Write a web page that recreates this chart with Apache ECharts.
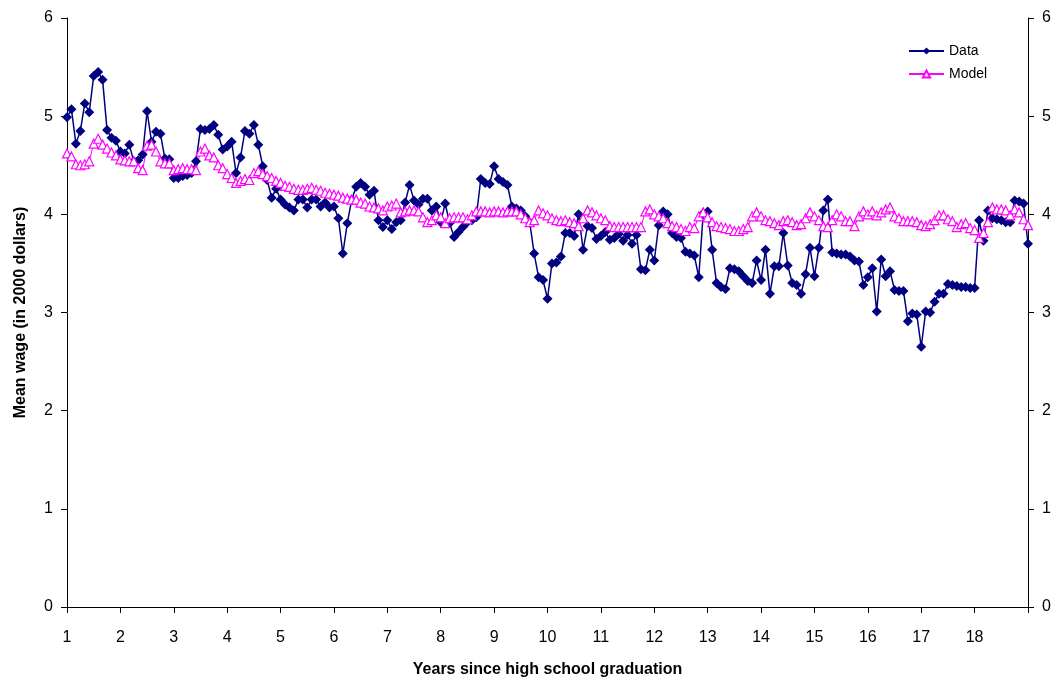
<!DOCTYPE html>
<html>
<head>
<meta charset="utf-8">
<script src="https://cdn.jsdelivr.net/npm/echarts@6/dist/echarts.min.js"></script>
<style>
  html, body { margin: 0; padding: 0; background: #fff; }
  #chart { width: 1060px; height: 684px; }
</style>
</head>
<body>
<div id="chart"></div>
<script>
// monthly mean wage, one row per year since graduation (last row ends at year 19)
var dataWage = [
  4.99, 5.07, 4.72, 4.85, 5.13, 5.04, 5.41, 5.45, 5.37, 4.86, 4.78, 4.75,
  4.64, 4.62, 4.71, 4.54, 4.55, 4.61, 5.05, 4.74, 4.84, 4.82, 4.57, 4.56,
  4.37, 4.37, 4.39, 4.40, 4.42, 4.54, 4.87, 4.86, 4.87, 4.91, 4.81, 4.66,
  4.69, 4.74, 4.42, 4.58, 4.85, 4.82, 4.91, 4.71, 4.49, 4.35, 4.17, 4.26,
  4.15, 4.10, 4.07, 4.04, 4.15, 4.15, 4.07, 4.15, 4.15, 4.08, 4.12, 4.07,
  4.08, 3.96, 3.60, 3.91, 4.15, 4.28, 4.32, 4.28, 4.20, 4.24, 3.94, 3.87,
  3.94, 3.85, 3.92, 3.94, 4.12, 4.30, 4.14, 4.10, 4.16, 4.16, 4.04, 4.08,
  3.92, 4.11, 3.91, 3.77, 3.82, 3.87, 3.92, 3.94, 3.97, 4.36, 4.32, 4.31,
  4.49, 4.36, 4.33, 4.30, 4.08, 4.06, 4.04, 3.98, 3.92, 3.60, 3.36, 3.33,
  3.14, 3.50, 3.51, 3.57, 3.81, 3.81, 3.78, 4.00, 3.64, 3.88, 3.86, 3.75,
  3.78, 3.82, 3.74, 3.76, 3.80, 3.73, 3.79, 3.70, 3.79, 3.44, 3.43, 3.64,
  3.53, 3.89, 4.03, 4.00, 3.81, 3.77, 3.76, 3.62, 3.60, 3.58, 3.36, 4.01,
  4.03, 3.64, 3.30, 3.26, 3.24, 3.45, 3.44, 3.42, 3.37, 3.32, 3.30, 3.53,
  3.33, 3.64, 3.19, 3.47, 3.47, 3.81, 3.48, 3.30, 3.28, 3.19, 3.39, 3.66,
  3.37, 3.66, 4.04, 4.15, 3.61, 3.60, 3.59, 3.59, 3.57, 3.53, 3.52, 3.28,
  3.36, 3.45, 3.01, 3.54, 3.37, 3.42, 3.23, 3.22, 3.22, 2.91, 2.99, 2.98,
  2.65, 3.01, 3.00, 3.11, 3.19, 3.19, 3.29, 3.28, 3.27, 3.26, 3.26, 3.25,
  3.25, 3.94, 3.73, 4.04, 3.96, 3.95, 3.94, 3.92, 3.92, 4.14, 4.13, 4.11, 3.70
];

var modelWage = [
  4.62, 4.59, 4.51, 4.50, 4.51, 4.54, 4.72, 4.77, 4.71, 4.67, 4.63, 4.60,
  4.56, 4.55, 4.54, 4.54, 4.47, 4.45, 4.70, 4.71, 4.64, 4.54, 4.52, 4.52,
  4.45, 4.46, 4.47, 4.46, 4.46, 4.45, 4.64, 4.67, 4.60, 4.58, 4.50, 4.47,
  4.41, 4.37, 4.32, 4.34, 4.36, 4.35, 4.42, 4.44, 4.41, 4.39, 4.37, 4.34,
  4.32, 4.29, 4.28, 4.26, 4.25, 4.25, 4.26, 4.27, 4.25, 4.24, 4.22, 4.21,
  4.20, 4.19, 4.17, 4.16, 4.15, 4.15, 4.12, 4.11, 4.08, 4.07, 4.06, 4.04,
  4.08, 4.09, 4.11, 4.02, 4.03, 4.04, 4.04, 4.03, 3.97, 3.92, 3.94, 3.99,
  3.97, 3.91, 3.96, 3.97, 3.97, 3.97, 3.95, 3.99, 4.03, 4.03, 4.03, 4.02,
  4.03, 4.03, 4.02, 4.03, 4.03, 4.03, 4.00, 3.96, 3.92, 3.94, 4.04, 4.01,
  3.99, 3.96, 3.94, 3.93, 3.94, 3.92, 3.91, 3.88, 3.96, 4.04, 4.02, 3.99,
  3.96, 3.94, 3.88, 3.87, 3.87, 3.87, 3.87, 3.87, 3.87, 3.87, 4.03, 4.05,
  4.00, 3.98, 3.96, 3.91, 3.88, 3.87, 3.85, 3.83, 3.87, 3.86, 3.98, 4.02,
  3.97, 3.92, 3.88, 3.87, 3.86, 3.85, 3.83, 3.83, 3.85, 3.87, 3.98, 4.02,
  3.98, 3.94, 3.93, 3.91, 3.89, 3.93, 3.94, 3.92, 3.89, 3.90, 3.96, 4.02,
  3.98, 3.94, 3.88, 3.87, 3.94, 4.00, 3.98, 3.93, 3.93, 3.88, 3.98, 4.03,
  4.00, 4.03, 3.99, 4.02, 4.05, 4.07, 3.98, 3.96, 3.93, 3.93, 3.93, 3.92,
  3.89, 3.88, 3.90, 3.94, 3.99, 3.99, 3.95, 3.93, 3.87, 3.90, 3.91, 3.86,
  3.84, 3.76, 3.81, 3.92, 4.07, 4.05, 4.05, 4.04, 3.99, 4.05, 4.02, 3.95, 3.89
];

var firstYear = 1;
var lastYear = 19;
var monthsPerYear = 12;

function toPoints(values) {
  return values.map(function (v, i) { return [firstYear + i / monthsPerYear, v]; });
}

var font = '"Liberation Sans", Arial, sans-serif';
var axisBlack = { color: '#000', width: 1 };

var chart = echarts.init(document.getElementById('chart'));

var yAxisBase = {
  type: 'value',
  min: 0,
  max: 6,
  interval: 1,
  axisLine: { show: true, lineStyle: axisBlack },
  axisTick: { show: true, length: 6, lineStyle: axisBlack },
  axisLabel: { fontSize: 16, color: '#000', margin: 14, fontFamily: font },
  splitLine: { show: false }
};

option = {
  animation: false,
  textStyle: { fontFamily: font },
  grid: { left: 67, right: 32, top: 18, bottom: 77 },
  legend: {
    orient: 'vertical',
    left: 908,
    top: 44,
    padding: 0,
    itemWidth: 35,
    itemHeight: 9,
    itemGap: 9,
    textStyle: { fontSize: 14, color: '#000', fontFamily: font },
    data: ['Data', 'Model']
  },
  xAxis: {
    type: 'value',
    min: firstYear,
    max: lastYear,
    interval: 1,
    name: 'Years since high school graduation',
    nameLocation: 'middle',
    nameGap: 55,
    nameTextStyle: { fontSize: 16, fontWeight: 'bold', color: '#000', fontFamily: font },
    axisLine: { show: true, onZero: false, lineStyle: axisBlack },
    axisTick: { show: true, length: 6, lineStyle: axisBlack },
    axisLabel: {
      fontSize: 16, color: '#000', margin: 23, fontFamily: font,
      formatter: function (v) { return v === lastYear ? '' : v; }
    },
    splitLine: { show: false }
  },
  yAxis: [
    Object.assign({}, yAxisBase, {
      position: 'left',
      name: 'Mean wage (in 2000 dollars)',
      nameLocation: 'middle',
      nameGap: 38,
      nameTextStyle: { fontSize: 16, fontWeight: 'bold', color: '#000', fontFamily: font }
    }),
    Object.assign({}, yAxisBase, { position: 'right' })
  ],
  series: [
    {
      name: 'Data',
      type: 'line',
      data: toPoints(dataWage),
      symbol: 'diamond',
      symbolSize: 10,
      showAllSymbol: true,
      itemStyle: { color: '#000080' },
      lineStyle: { color: '#000080', width: 1.5 },
      emphasis: { disabled: true }
    },
    {
      name: 'Model',
      type: 'line',
      data: toPoints(modelWage),
      symbol: 'triangle',
      symbolSize: 9,
      showAllSymbol: true,
      itemStyle: { color: '#ffffff', borderColor: '#ff00ff', borderWidth: 1.2 },
      lineStyle: { color: '#ff00ff', width: 1 },
      emphasis: { disabled: true }
    }
  ]
};

chart.setOption(option);
</script>
</body>
</html>
